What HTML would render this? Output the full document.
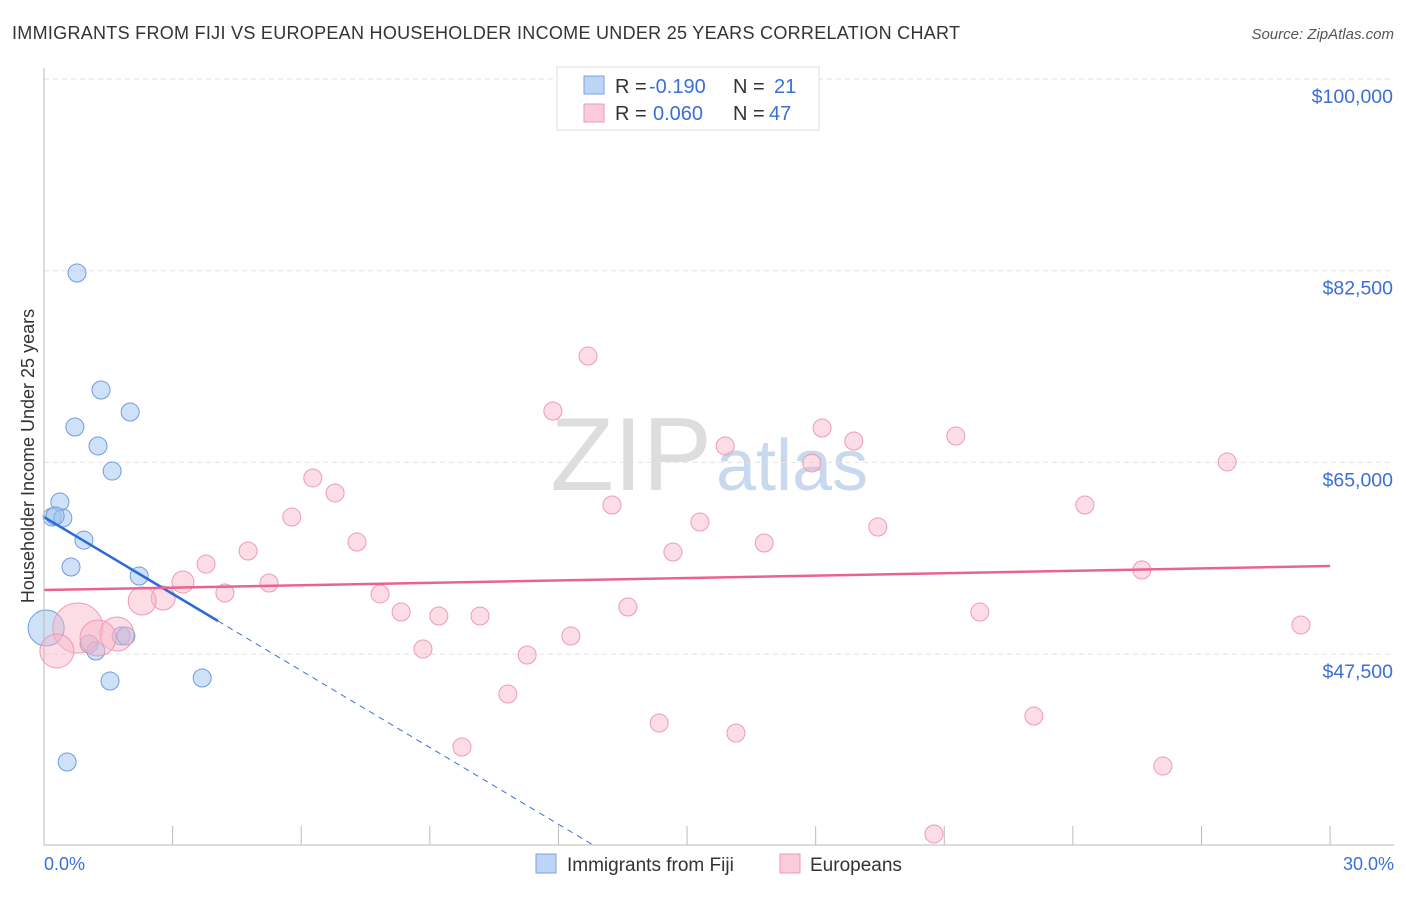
<!DOCTYPE html>
<html><head><meta charset="utf-8"><style>
body{margin:0;background:#fff;font-family:"Liberation Sans",sans-serif;}
svg text{font-family:"Liberation Sans",sans-serif;}
</style></head><body>
<svg id="chart" width="1406" height="892">
<text x="12" y="39" font-size="18" fill="#333" textLength="948">IMMIGRANTS FROM FIJI VS EUROPEAN HOUSEHOLDER INCOME UNDER 25 YEARS CORRELATION CHART</text>
<text x="1394" y="39" font-size="15" fill="#555" font-style="italic" text-anchor="end">Source: ZipAtlas.com</text>
<text x="712" y="490" font-size="104" fill="#ddd" text-anchor="end" font-family="Liberation Serif">ZIP</text>
<text x="716" y="490" font-size="72" fill="#c8d8ee">atlas</text>
<g id="grid"></g><g id="marks"></g>
<line x1="44" y1="68" x2="44" y2="845" stroke="#bbb"/>
<line x1="44" y1="845" x2="1394" y2="845" stroke="#bbb"/>
<text transform="translate(34,456) rotate(-90)" font-size="18" fill="#333" text-anchor="middle">Householder Income Under 25 years</text>
<text x="44" y="870" font-size="18" fill="#3a6fd8">0.0%</text>
<text x="1394" y="870" font-size="18" fill="#3a6fd8" text-anchor="end">30.0%</text>
<g>
<rect x="557" y="67" width="262" height="63" fill="#fff" stroke="#ddd"/>
<rect x="584" y="76" width="20" height="18" fill="#bcd4f6" stroke="#7aa3e0"/>
<rect x="584" y="104" width="20" height="18" fill="#fbcbd9" stroke="#eb9ab4"/>
<text x="615" y="93" font-size="20" fill="#333">R =</text>
<text x="649" y="93" font-size="20" fill="#3a6fd8">-0.190</text>
<text x="733" y="93" font-size="20" fill="#333">N =</text>
<text x="774" y="93" font-size="20" fill="#3a6fd8">21</text>
<text x="615" y="120" font-size="20" fill="#333">R =</text>
<text x="653" y="120" font-size="20" fill="#3a6fd8">0.060</text>
<text x="733" y="120" font-size="20" fill="#333">N =</text>
<text x="769" y="120" font-size="20" fill="#3a6fd8">47</text>
</g>
<g>
<rect x="536" y="854" width="20" height="19" fill="#bcd4f6" stroke="#7aa3e0"/>
<text x="567" y="871" font-size="19" fill="#333">Immigrants from Fiji</text>
<rect x="780" y="854" width="20" height="19" fill="#fbcbd9" stroke="#eb9ab4"/>
<text x="810" y="871" font-size="19" fill="#333">Europeans</text>
</g>
</svg>
<script>
const yTicks=[100000,82500,65000,47500];
const yTickLabels=["$100,000","$82,500","$65,000","$47,500"];
const xTicks=[0,3,6,9,12,15,18,21,24,27,30];
const fijiX=[0.77,1.33,2.01,0.72,1.26,1.59,0.37,0.19,0.44,0.93,0.63,2.22,0.05,1.05,1.21,1.80,1.91,1.54,3.69,0.54,0.26];
const fijiY=[82290,71610,69600,68230,66500,64210,61380,60010,59920,57910,55450,54630,49880,48420,47780,49150,49150,45040,45320,37650,60110];
const fijiR=[9,9,9,9,9,9,9,9,9,9,9,9,18,9,9,9,9,9,9,9,9];
const eurX=[12.69,11.87,15.89,18.15,18.89,21.27,17.91,27.60,6.27,6.79,13.25,24.28,5.78,15.30,19.45,7.30,16.80,4.76,14.67,3.78,25.61,3.24,5.25,4.22,7.84,2.78,2.29,8.33,13.62,21.83,9.21,10.17,29.32,12.29,0.79,1.70,1.26,0.30,8.84,11.27,10.82,14.35,23.09,16.14,9.75,26.10,20.76];
const eurY=[74710,69690,66500,68140,66950,67410,64950,65040,63580,62210,61110,61110,60010,59560,59100,57730,57640,56910,56820,55720,55180,54080,53990,53080,52990,52620,52350,51340,51800,51340,50980,50980,50160,49150,49880,49330,48970,47780,47960,47420,43860,41210,41850,40300,39020,37280,31080];
const eurR=[9,9,9,9,9,9,9,9,9,9,9,9,9,9,9,9,9,9,9,9,9,11,9,9,9,12,14,9,9,9,9,9,9,9,25,17,18,17,9,9,9,9,9,9,9,9,9];
const fijiTrend=[60010,-2337];
const eurTrend=[53350,73];
const xs=p=>44+p*42.87, ys=v=>79+(100000-v)/17500*191.7;
const NS="http://www.w3.org/2000/svg";
const grid=document.getElementById('grid'),marks=document.getElementById('marks');
function mk(tag,attrs,parent){const e=document.createElementNS(NS,tag);for(const k in attrs)e.setAttribute(k,attrs[k]);parent.appendChild(e);return e;}
yTicks.forEach((v,i)=>{
 const l=mk('line',{x1:44,x2:1394,y1:ys(v),y2:ys(v),stroke:'#e2e2e2','stroke-dasharray':'5,4'},grid);
 
 
 const t=mk('text',{x:1393,y:ys(v)+24,'font-size':19.5,fill:'#3a6fd8','text-anchor':'end'},grid);
 t.textContent=yTickLabels[i];
 
 
});
xTicks.forEach(p=>{
 const l=mk('line',{x1:xs(p),x2:xs(p),y1:826,y2:845,stroke:'#bbb'},grid);
 
 
});
fijiX.forEach((p,i)=>{
 const c=mk('circle',{cx:xs(p),cy:ys(fijiY[i]),r:fijiR[i],fill:'rgba(160,195,240,0.5)',stroke:'#6f9be0','stroke-width':1},marks);
 
 
});
eurX.forEach((p,i)=>{
 const c=mk('circle',{cx:xs(p),cy:ys(eurY[i]),r:eurR[i],fill:'rgba(248,180,200,0.45)',stroke:'#ee9ab5','stroke-width':1},marks);
 
 
});
const fv=p=>fijiTrend[0]+fijiTrend[1]*p;
const pEnd=(fijiTrend[0]-(100000-(845-79)/191.7*17500))/-fijiTrend[1];
const fd=mk('line',{x1:xs(4.06),y1:ys(fv(4.06)),x2:xs(pEnd),y2:845,stroke:'#3a6fd8','stroke-width':1,'stroke-dasharray':'6,5'},marks);


const fl=mk('line',{x1:xs(0),y1:ys(fv(0)),x2:xs(4.06),y2:ys(fv(4.06)),stroke:'#2a6ad8','stroke-width':2.5},marks);


const el=mk('line',{x1:xs(0),y1:ys(eurTrend[0]),x2:xs(30),y2:ys(eurTrend[0]+eurTrend[1]*30),stroke:'#e8648f','stroke-width':2.5},marks);


</script>
</body></html>
